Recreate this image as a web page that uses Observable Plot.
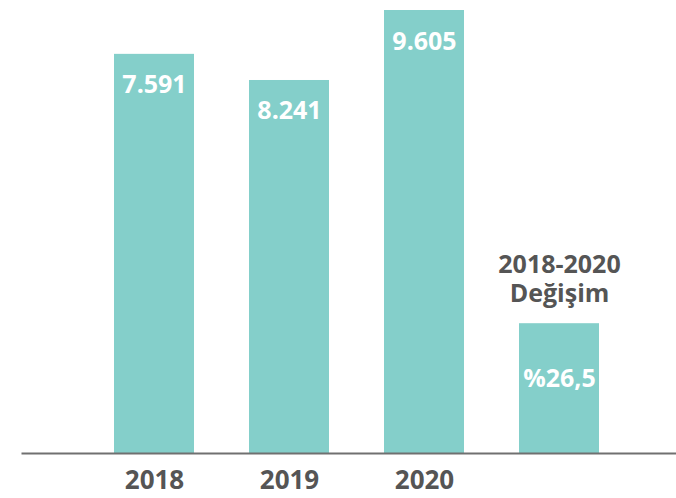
<!DOCTYPE html>
<html>
<head>
<meta charset="utf-8">
<script src="https://cdn.jsdelivr.net/npm/d3@7"></script>
<script src="https://cdn.jsdelivr.net/npm/@observablehq/plot@0.6"></script>
<style>
  html, body { margin: 0; padding: 0; background: #fff; }
  #chart svg { display: block; }
</style>
</head>
<body>
<div id="chart"></div>
<script>
// Categories and values
const categories = ["2018", "2019", "2020", "Değişim"];
const valueLabels = ["7.591", "8.241", "9.605", "%26,5"];
// Drawn bar heights (relative to tallest bar = 100)
const barLevels = [90.1, 84.2, 100, 29.3];
const tickLabels = ["2018", "2019", "2020", ""];
const changeTitleLines = ["2018-2020", "Değişim"];

const data = categories.map((c, i) => ({cat: c, level: barLevels[i], label: valueLabels[i], tick: tickLabels[i]}));
const years = data.slice(0, 3);
const change = data.slice(3);

const teal = "#84cfca";
const grey = "#555555";
const font = "'Open Sans', 'Noto Sans', sans-serif";

const chart = Plot.plot({
  width: 676,
  height: 498,
  marginTop: 10,
  marginBottom: 45,
  marginLeft: 57.5,
  marginRight: 21,
  style: {fontFamily: font, background: "#fff"},
  x: {domain: categories, padding: 0.41, axis: null},
  y: {domain: [0, 100], axis: null},
  marks: [
    Plot.barY(data, {x: "cat", y: "level", fill: teal}),
    Plot.ruleY([0], {stroke: "#707070", strokeWidth: 2, insetLeft: -36, insetRight: -21}),
    Plot.text(years, {x: "cat", y: "level", text: "label", fill: "white", fontSize: 25, fontWeight: "bold", lineAnchor: "middle", dy: 31}),
    Plot.text(change, {x: "cat", y: "level", text: "label", fill: "white", fontSize: 25, fontWeight: "bold", lineAnchor: "middle", dy: 55}),
    Plot.text(change, {x: "cat", y: "level", text: () => changeTitleLines[0], fill: grey, fontSize: 25, fontWeight: "bold", lineAnchor: "middle", dy: -59}),
    Plot.text(change, {x: "cat", y: "level", text: () => changeTitleLines[1], fill: grey, fontSize: 25, fontWeight: "bold", lineAnchor: "middle", dy: -30}),
    Plot.axisX({domain: categories, label: null, tickSize: 0, tickPadding: 17, fontSize: 26, fontWeight: "bold", fill: grey, tickFormat: (d) => tickLabels[categories.indexOf(d)]})
  ]
});
document.getElementById("chart").appendChild(chart);
</script>
</body>
</html>
